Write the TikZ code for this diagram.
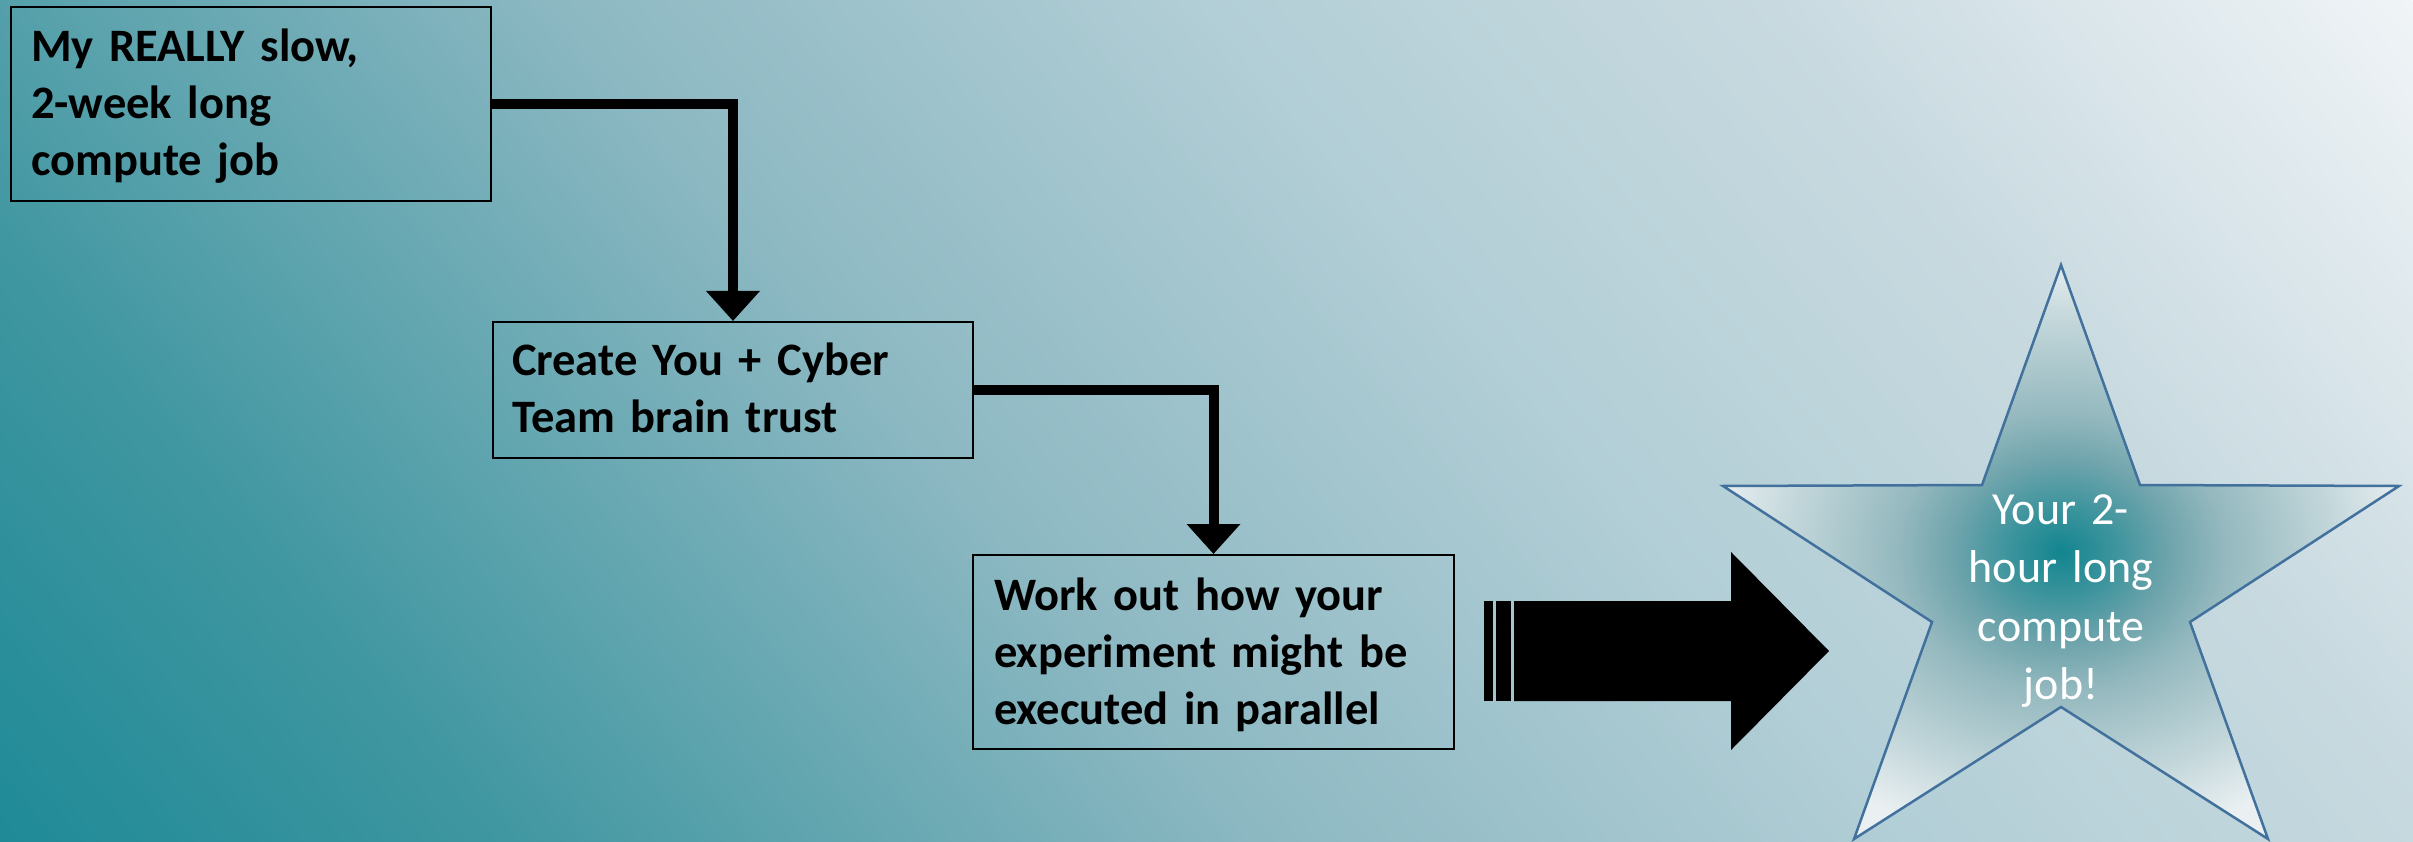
\documentclass[tikz,border=0pt]{standalone}
\usepackage{fontspec}
\setmainfont{Carlito}
\usetikzlibrary{arrows.meta}

% backdrop ramp, dark teal (lower left) to pale grey (upper right)
\definecolor{bgA}{HTML}{1F8A97}
\definecolor{bgB}{HTML}{3E96A0}
\definecolor{bgC}{HTML}{8CB8C2}
\definecolor{bgD}{HTML}{B2CED6}
\definecolor{bgE}{HTML}{C8DAE0}
\definecolor{bgF}{HTML}{F0F4F7}
% glow inside the star
\definecolor{glowA}{HTML}{12858F}
\definecolor{glowB}{HTML}{3D949D}
\definecolor{glowC}{HTML}{6FA4AC}
\definecolor{glowD}{HTML}{93B8BE}
\definecolor{glowE}{HTML}{C2D6DA}
\definecolor{glowF}{HTML}{EAF0F2}
\definecolor{starline}{HTML}{41719C}

\pgfdeclarehorizontalshading{backdrop}{100bp}{color(0bp)=(bgA); color(25bp)=(bgA); color(32.8bp)=(bgB); color(45.2bp)=(bgC); color(55.6bp)=(bgD); color(64.7bp)=(bgE); color(75bp)=(bgF); color(100bp)=(bgF)}
\pgfdeclareradialshading{starglow}{\pgfpointorigin}{color(0bp)=(glowA); color(4bp)=(glowB); color(8bp)=(glowC); color(12bp)=(glowD); color(20bp)=(glowE); color(26bp)=(glowF); color(50bp)=(glowF)}

\tikzset{
  stepbox/.style={draw=black, line width=2pt, anchor=north west, align=left,
    inner ysep=0pt, font=\fontsize{46.5}{57}\selectfont\bfseries},
  flow/.style={line width=10pt, -{Triangle[width=52pt,length=30pt]}},
  burst/.style={shading=starglow, draw=starline, line width=2.5pt},
  burstlabel/.style={anchor=base, align=center, text=white, inner sep=0pt,
    text width=400pt, font=\fontsize{46}{58.5}\selectfont},
}

\begin{document}
\begin{tikzpicture}[x=1pt,y=-1pt]
\useasboundingbox (0,0) rectangle (2413,842);

% diagonal backdrop
\begin{scope}
  \clip (0,0) rectangle (2413,842);
  \begin{scope}[transform canvas={shift={(0pt,-842pt)}, rotate=40}]
    \shade[shading=backdrop] (0pt,-1600pt) rectangle (2389pt,700pt);
  \end{scope}
\end{scope}

% the three steps
\node[stepbox, text width=440pt, inner xsep=20pt, text height=55pt, text depth=139pt]
  (slow) at (10,6) {My REALLY slow,\\2-week long\\compute job};
\node[stepbox, text width=442pt, inner xsep=19pt, text height=54pt, text depth=82pt]
  (brain) at (492,321) {Create You + Cyber\\Team brain trust};
\node[stepbox, text width=439pt, inner xsep=21pt, text height=55pt, text depth=139pt]
  (parallel) at (972,554) {Work out how your\\experiment might be\\executed in parallel};

\draw[flow] (slow.east) -| (brain.north);
\draw[flow] (brain.east) -| (parallel.north);

% striped block arrow
\fill (1484,601) rectangle (1493,701);
\fill (1496,601) rectangle (1511,701);
\fill (1514,601) -- (1731,601) -- (1731,552) -- (1829,651) -- (1731,750)
  -- (1731,701) -- (1514,701) -- cycle;

% result star
\shadedraw[burst] (2061,265) -- (2140,485) -- (2399,486) -- (2190,622)
  -- (2268,839) -- (2061,707) -- (1854,839) -- (1932,622) -- (1723,486)
  -- (1982,485) -- cycle;
\node[burstlabel] (payoff) at (2061,524) {Your 2-\\hour long\\compute\\job!};
\end{tikzpicture}
\end{document}
